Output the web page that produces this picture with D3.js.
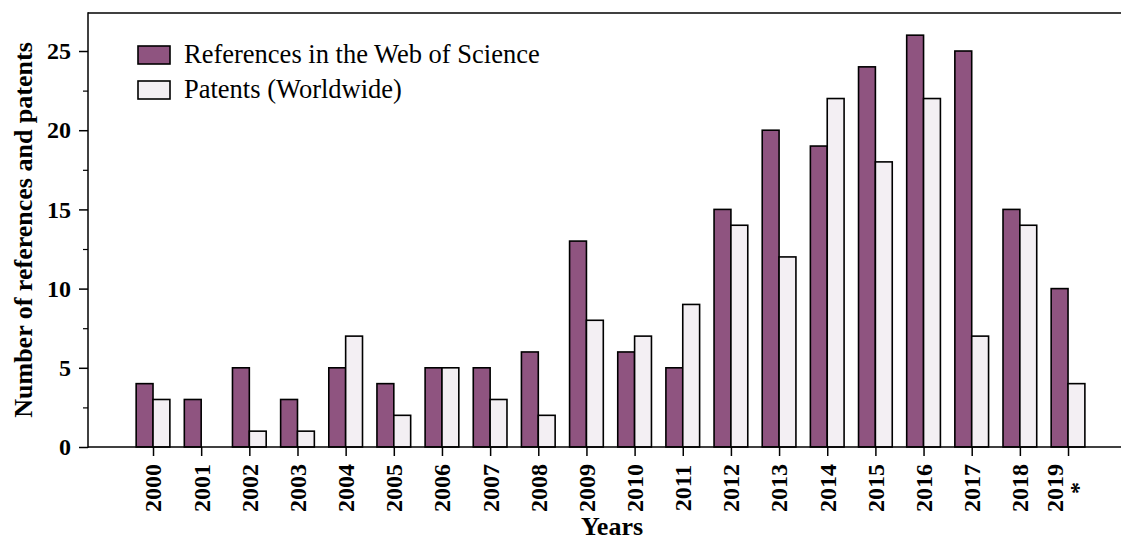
<!doctype html>
<html>
<head>
<meta charset="utf-8">
<style>
  body { margin: 0; background: #fff; }
  svg { display: block; }
  text { font-family: 'Liberation Serif', 'Times New Roman', serif; fill: #000; }
  .tick-label { font-size: 24px; font-weight: bold; }
  .axis-title { font-size: 26px; font-weight: bold; }
  .legend-text { font-size: 26.5px; }
  .spine { stroke: #000; stroke-width: 1.5; }
  .bar { stroke: #000; stroke-width: 1.6; }
</style>
<script src="https://d3js.org/d3.v7.min.js"></script>
</head>
<body>
<svg width="1121" height="540"></svg>
<script>
const years = ['2000','2001','2002','2003','2004','2005','2006','2007','2008','2009',
               '2010','2011','2012','2013','2014','2015','2016','2017','2018','2019'];
const references = [4, 3, 5, 3, 5, 4, 5, 5, 6, 13, 6, 5, 15, 20, 19, 24, 26, 25, 15, 10];
const patents    = [3, 0, 1, 1, 7, 2, 5, 3, 2, 8, 7, 9, 14, 12, 22, 18, 22, 7, 14, 4];
const yTicks = [0, 5, 10, 15, 20, 25];
const yMinorTicks = [2.5, 7.5, 12.5, 17.5, 22.5];
const seriesNames = ['References in the Web of Science', 'Patents (Worldwide)'];
const colors = ['#8f5480', '#f3eff3'];

const svg = d3.select('svg');
const plotL = 88, plotR = 1121, plotT = 13, plotB = 447;

const x = d3.scaleLinear().domain([-1.35, 20.1]).range([plotL, plotR]);
const y = d3.scaleLinear().domain([0, 27.4]).range([plotB, plotT]);
const bw = 0.35;

// bars
const series = [references, patents];
series.forEach((vals, s) => {
  svg.append('g').selectAll('rect')
    .data(vals)
    .enter()
    .append('rect')
    .attr('class', 'bar')
    .attr('x', (d, i) => x(i + (s === 0 ? -bw : 0)))
    .attr('width', x(bw) - x(0))
    .attr('y', d => y(d))
    .attr('height', d => y(0) - y(d))
    .attr('fill', colors[s]);
});

// y axis
const yAxis = svg.append('g').attr('transform', `translate(${plotL},0)`)
  .call(d3.axisLeft(y).tickValues(yTicks).tickSize(9).tickPadding(8).tickFormat(d3.format('d')));
yAxis.select('.domain').remove();
yAxis.selectAll('line').attr('stroke', '#000').attr('stroke-width', 1.5);
yAxis.selectAll('text').attr('class', 'tick-label').attr('fill', '#000');
yAxis.attr('font-family', null).attr('font-size', null);
svg.append('g').attr('transform', `translate(${plotL},0)`)
  .call(d3.axisLeft(y).tickValues(yMinorTicks).tickSize(5).tickFormat(''))
  .call(g => g.select('.domain').remove())
  .selectAll('line').attr('stroke', '#000').attr('stroke-width', 1.2);

// x axis
const xAxis = svg.append('g').attr('transform', `translate(0,${plotB})`)
  .call(d3.axisBottom(x).tickValues(d3.range(years.length)).tickSize(9).tickFormat(''));
xAxis.select('.domain').remove();
xAxis.selectAll('line').attr('stroke', '#000').attr('stroke-width', 1.5);

svg.append('g').selectAll('text')
  .data(years)
  .enter()
  .append('text')
  .attr('class', 'tick-label')
  .attr('text-anchor', 'middle')
  .attr('transform', (d, i) => `translate(${x(i)},488) rotate(-90)`)
  .each(function (d, i) {
    const t = d3.select(this);
    if (i === years.length - 1) {
      t.append('tspan').attr('x', 0).attr('y', -5).text(d);
      t.append('tspan').attr('x', 0).attr('y', 18).text('*');
    } else {
      t.attr('dy', '0.35em').text(d);
    }
  });

// spines
svg.append('line').attr('class', 'spine').attr('x1', plotL).attr('x2', plotL).attr('y1', plotT - 0.75).attr('y2', plotB + 0.75);
svg.append('line').attr('class', 'spine').attr('x1', plotL).attr('x2', plotR).attr('y1', plotT).attr('y2', plotT);
svg.append('line').attr('class', 'spine').attr('x1', plotL).attr('x2', plotR).attr('y1', plotB).attr('y2', plotB);

// axis titles
svg.append('text').attr('class', 'axis-title')
  .attr('text-anchor', 'middle')
  .attr('transform', `translate(32,${(plotT + plotB) / 2}) rotate(-90)`)
  .text('Number of references and patents');
svg.append('text').attr('class', 'axis-title')
  .attr('text-anchor', 'middle')
  .attr('x', 612).attr('y', 535)
  .text('Years');

// legend
const legend = svg.append('g');
seriesNames.forEach((name, s) => {
  legend.append('rect')
    .attr('x', 138).attr('y', 46 + s * 35)
    .attr('width', 32).attr('height', 18)
    .attr('fill', colors[s]).attr('stroke', '#000').attr('stroke-width', 1.6);
  legend.append('text').attr('class', 'legend-text')
    .attr('x', 184).attr('y', 63 + s * 35)
    .text(name);
});
</script>
</body>
</html>
